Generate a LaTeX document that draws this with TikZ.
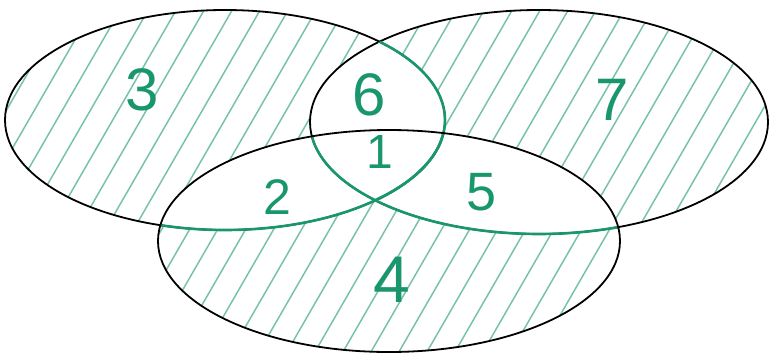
\documentclass[tikz,border=0pt]{standalone}
\usepackage{fontspec}
\setsansfont{Liberation Sans}
\definecolor{ink}{RGB}{25,150,110}
\definecolor{hatch}{RGB}{120,195,165}

\def\leftset{(225,120) ellipse [x radius=220, y radius=110]}
\def\rightset{(539,122) ellipse [x radius=229, y radius=112]}
\def\bottomset{(389,241) ellipse [x radius=231, y radius=111]}

\begin{document}
\begin{tikzpicture}[
    x=1pt, y=-1pt,
    outline/.style={draw=black, line width=1.8pt},
    trace/.style={draw=ink, line width=2.6pt},
    hatchline/.style={draw=hatch, line width=1.5pt},
    digit/.style={text=ink, font=\sffamily\fontsize{60}{60}\selectfont}
]
    \useasboundingbox (0,0) rectangle (769,357);

    % hatching, one clip per set
    \foreach \set in {\leftset,\rightset,\bottomset} {
        \begin{scope}
            \clip \set;
            \foreach \x in {-220,-192,...,780}
                \draw[hatchline] (\x,357) -- (\x+206,0);
        \end{scope}
    }

    % overlaps stay white
    \begin{scope}
        \clip \leftset;
        \fill[white] \rightset;
        \fill[white] \bottomset;
    \end{scope}
    \begin{scope}
        \clip \rightset;
        \fill[white] \bottomset;
    \end{scope}

    % outlines, green where traced over
    \draw[outline] \leftset;
    \draw[outline] \rightset;
    \begin{scope}
        \clip \rightset;
        \draw[trace] \leftset;
    \end{scope}
    \begin{scope}
        \clip \bottomset;
        \draw[trace] \leftset;
        \draw[trace] \rightset;
    \end{scope}
    \draw[outline] \bottomset;

    \node[digit] (three) at (142,90) {3};
    \node[digit] (six) at (369,95) {6};
    \node[digit, font=\sffamily\fontsize{48}{48}\selectfont] (one) at (380,152) {1};
    \node[digit, font=\sffamily\fontsize{50}{50}\selectfont] (two) at (277,197) {2};
    \node[digit, font=\sffamily\fontsize{54}{54}\selectfont] (five) at (482,192) {5};
    \node[digit] (seven) at (612,100) {7};
    \node[digit, font=\sffamily\fontsize{66}{66}\selectfont] (four) at (392,280) {4};
\end{tikzpicture}
\end{document}
